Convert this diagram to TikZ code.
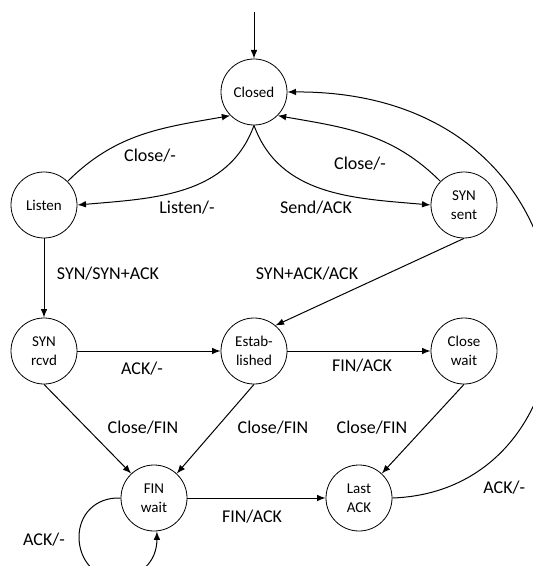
\documentclass[tikz,border=0pt]{standalone}
\usepackage{fontspec}
\setmainfont{Carlito}

\tikzstyle{tcpstate}=[circle, draw, minimum size=33pt, inner sep=0pt, align=center, font=\fontsize{7.5}{9.5}\selectfont]
\tikzstyle{myarrow}=[-latex, line width=0.5pt]
\tikzstyle{line}=[-, line width=0.5pt]
\tikzstyle{lbl}=[font=\fontsize{9}{11}\selectfont, inner sep=0pt]

\begin{document}
\begin{tikzpicture}[x=0.5pt, y=0.5pt]
		\useasboundingbox (0,0) rectangle (533,-566);
		\clip (0,0) rectangle (533,-566);

		\node (closed) at (254,-92) [tcpstate] {Closed};
		\node (listen) at (44,-205) [tcpstate] {Listen};
		\node (synsent) at (464,-205) [tcpstate] {SYN\\sent};
		\node (synrcvd) at (44,-351) [tcpstate] {SYN\\rcvd};
		\node (established) at (254,-351) [tcpstate] {Estab-\\lished};
		\node (closewait) at (464,-351) [tcpstate] {Close\\wait};
		\node (finwait) at (154,-498) [tcpstate] {FIN\\wait};
		\node (lastack) at (359,-498) [tcpstate] {Last\\ACK};
		\coordinate (start) at (254,-12);

		\draw[myarrow] (start) -- (closed.north);

		% open / close
		\draw[myarrow] (listen.45) to[out=45, in=190] (closed.225);
		\draw[myarrow] (closed.south) to[out=-110, in=5] (listen.east);
		\draw[myarrow] (closed.south) to[out=-70, in=175] (synsent.west);
		\draw[myarrow] (synsent.135) to[out=135, in=-10] (closed.-45);
		\node (lblListenClose) at (150,-156) [lbl] {Close/-};
		\node (lblListen) at (187,-208) [lbl] {Listen/-};
		\node (lblSend) at (316,-208) [lbl] {Send/ACK};
		\node (lblSentClose) at (360,-164) [lbl] {Close/-};

		% handshake
		\draw[myarrow] (listen.south) -- (synrcvd.north);
		\draw[myarrow] (synsent.south) -- (established.50);
		\draw[myarrow] (synrcvd.east) -- (established.west);
		\draw[myarrow] (established.east) -- (closewait.west);
		\node (lblSyn) at (108,-274) [lbl] {SYN/SYN+ACK};
		\node (lblSynAck) at (307,-274) [lbl] {SYN+ACK/ACK};
		\node (lblAck) at (142,-369) [lbl] {ACK/-};
		\node (lblFinAck) at (362,-366) [lbl] {FIN/ACK};

		% teardown
		\draw[myarrow] (synrcvd.south) -- (finwait.133);
		\draw[myarrow] (established.south) -- (finwait.47);
		\draw[myarrow] (closewait.south) -- (lastack.47);
		\draw[myarrow] (finwait.east) -- (lastack.west);
		\node (lblRcvdClose) at (143,-428) [lbl] {Close/FIN};
		\node (lblEstClose) at (273,-428) [lbl] {Close/FIN};
		\node (lblWaitClose) at (372,-428) [lbl] {Close/FIN};
		\node (lblFinAck2) at (252,-517) [lbl] {FIN/ACK};

		\draw[myarrow] (finwait.west) .. controls (95,-497) and (79,-515) .. (79,-537)
			.. controls (79,-560) and (95,-578) .. (116,-578)
			.. controls (140,-578) and (157,-562) .. (finwait.-85);
		\node (lblLoop) at (44,-540) [lbl] {ACK/-};

		\draw[myarrow] (lastack.east) .. controls (620,-490) and (620,-90) .. (closed.east);
		\node (lblLastAck) at (483,-488) [lbl, anchor=west] {ACK/-};
\end{tikzpicture}
\end{document}
